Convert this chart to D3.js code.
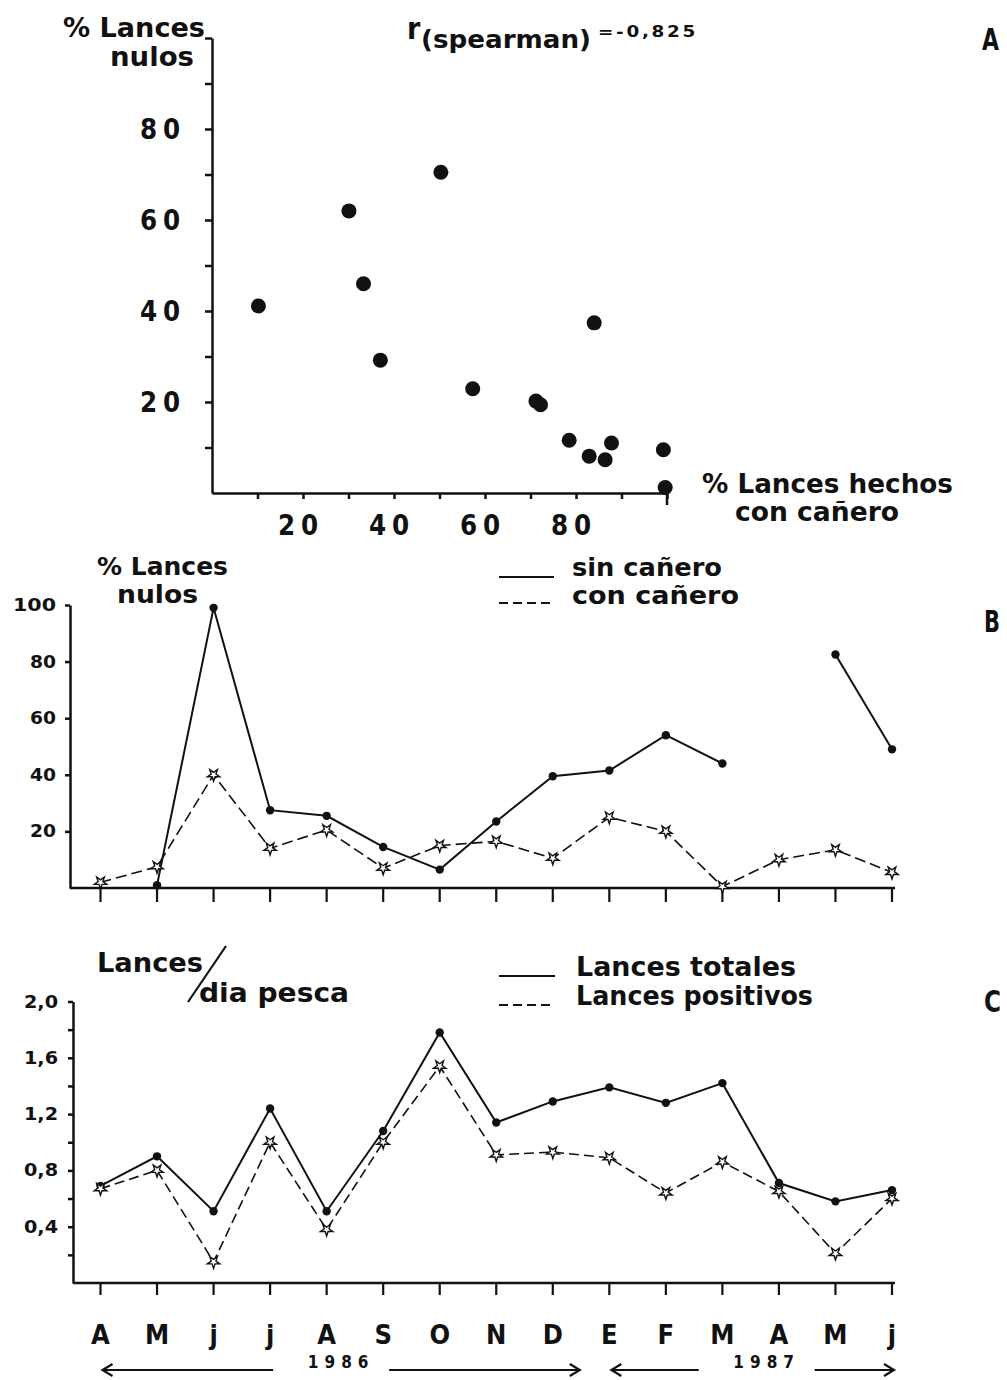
<!DOCTYPE html>
<html>
<head>
<meta charset="utf-8">
<script src="https://cdn.jsdelivr.net/npm/d3@7"></script>
<style>
body { margin: 0; background: #fff; }
svg text { font-family: 'Liberation Sans Narrow', 'DejaVu Sans Condensed', sans-serif; font-weight: bold; fill: #111; }
.axis path, .axis line { stroke: #111; stroke-width: 2.5; }
</style>
</head>
<body>
<svg id="chart" width="1007" height="1380"></svg>
<script>
// ---- data ----
// panel A: % lances hechos con cañero vs % lances nulos (one entry per point)
var pctConCanero = [10.2, 30.1, 33.3, 37.0, 50.3, 57.3, 71.2, 72.2, 84.0, 78.5, 82.9, 86.4, 87.8, 99.2, 99.6];
var pctNulosA    = [41.1, 62.0, 46.0, 29.2, 70.5, 22.9, 20.2, 19.4, 37.4, 11.6, 8.1, 7.3, 11.0, 9.5, 1.2];
var axisA_ticks = [10, 20, 30, 40, 50, 60, 70, 80, 90, 100];
var axisA_labels = [20, 40, 60, 80];

// months Apr 1986 - Jun 1987
var months = ['A', 'M', 'j', 'j', 'A', 'S', 'O', 'N', 'D', 'E', 'F', 'M', 'A', 'M', 'j'];

// panel B: % lances nulos
var sinCanero = [null, 1, 99, 27.5, 25.5, 14.5, 6.5, 23.5, 39.5, 41.5, 54, 44, null, 82.5, 49];
var conCanero = [2, 7.5, 40, 14, 20.5, 7, 15, 16.5, 10.5, 25, 20, 0.5, 10, 13.5, 5.5];
var axisB_ticks = [20, 40, 60, 80, 100];

// panel C: lances / dia pesca
var lancesTotales   = [0.69, 0.90, 0.51, 1.24, 0.51, 1.08, 1.78, 1.14, 1.29, 1.39, 1.28, 1.42, 0.71, 0.58, 0.66];
var lancesPositivos = [0.67, 0.80, 0.15, 1.00, 0.38, 1.00, 1.54, 0.91, 0.93, 0.89, 0.64, 0.86, 0.65, 0.21, 0.60];
var axisC_ticks = [0.2, 0.4, 0.6, 0.8, 1.0, 1.2, 1.4, 1.6, 1.8, 2.0];
var axisC_labels = [0.4, 0.8, 1.2, 1.6, 2.0];

var years = [{label: '1986', from: 0, to: 8}, {label: '1987', from: 9, to: 14}];

var svg = d3.select('#chart');

function txt(x, y, s, size, opts) {
  opts = opts || {};
  var t = svg.append('text')
    .attr('x', x).attr('y', y)
    .attr('font-size', size)
    .attr('text-anchor', opts.anchor || 'start')
    .text(s);
  if (opts.len) t.attr('textLength', opts.len).attr('lengthAdjust', 'spacingAndGlyphs');
  if (opts.ls) t.attr('letter-spacing', opts.ls);
  return t;
}

function stars(g, data, x, y) {
  g.selectAll('.star')
    .data(data.map(function(v, i) { return [i, v]; }).filter(function(d) { return d[1] != null; }))
    .enter().append('path')
    .attr('class', 'star')
    .attr('d', d3.symbol().type(d3.symbolStar).size(48))
    .attr('transform', function(d) { return 'translate(' + x(d[0]) + ',' + y(d[1]) + ') rotate(180)'; })
    .attr('fill', '#fff')
    .attr('stroke', '#111')
    .attr('stroke-width', 1.4);
}

function dots(g, data, x, y, r) {
  g.selectAll('.dot')
    .data(data.map(function(v, i) { return [i, v]; }).filter(function(d) { return d[1] != null; }))
    .enter().append('circle')
    .attr('class', 'dot')
    .attr('r', r)
    .attr('cx', function(d) { return x(d[0]); })
    .attr('cy', function(d) { return y(d[1]); })
    .attr('fill', '#111');
}

function seriesLine(g, data, x, y, dash, w) {
  g.append('path')
    .datum(data)
    .attr('fill', 'none')
    .attr('stroke', '#111')
    .attr('stroke-width', w)
    .attr('stroke-dasharray', dash)
    .attr('d', d3.line()
      .defined(function(d) { return d != null; })
      .x(function(d, i) { return x(i); })
      .y(function(d) { return y(d); }));
}

// ===== panel A =====
var xA = d3.scaleLinear().domain([0, 100]).range([212, 667]);
var yA = d3.scaleLinear().domain([0, 100]).range([493, 38]);
var gA = svg.append('g');

gA.append('g').attr('class', 'axis')
  .attr('transform', 'translate(' + xA(0) + ',0)')
  .call(d3.axisLeft(yA).tickValues(axisA_ticks).tickSize(7).tickSizeOuter(0).tickFormat(''));
gA.append('g').attr('class', 'axis')
  .attr('transform', 'translate(0,' + yA(0) + ')')
  .call(d3.axisBottom(xA).tickValues(axisA_ticks).tickSize(6).tickSizeOuter(0).tickFormat(''));
// longer tick at 100
gA.append('line').attr('x1', xA(100)).attr('x2', xA(100))
  .attr('y1', yA(0) - 5).attr('y2', yA(0) + 12)
  .attr('stroke', '#111').attr('stroke-width', 2.5);

axisA_labels.forEach(function(v) {
  txt(186, yA(v) + 10, v, 28, {anchor: 'end', ls: 6, len: 46});
  txt(xA(v) - 2, 535, v, 28, {anchor: 'middle', ls: 6, len: 46});
});

gA.selectAll('.pt')
  .data(pctConCanero.map(function(v, i) { return [v, pctNulosA[i]]; }))
  .enter().append('circle')
  .attr('class', 'pt')
  .attr('r', 7.5)
  .attr('cx', function(d) { return xA(d[0]); })
  .attr('cy', function(d) { return yA(d[1]); })
  .attr('fill', '#111');

txt(63, 37, '% Lances', 27, {len: 142});
txt(110, 66, 'nulos', 27, {len: 84});
txt(407, 39, 'r', 30);
txt(421, 48, '(spearman)', 24, {len: 170});
txt(598, 37, '=-0,825', 15, {len: 100, ls: 2});
txt(982, 50, 'A', 30, {len: 17});
txt(702, 493, '% Lances hechos', 26, {len: 251});
txt(735, 521, 'con cañero', 26, {len: 164});

// ===== panel B =====
var xM = d3.scaleLinear().domain([0, months.length - 1]).range([100.5, 892]);
var yB = d3.scaleLinear().domain([0, 100]).range([888, 605]);
var gB = svg.append('g');

gB.append('g').attr('class', 'axis')
  .attr('transform', 'translate(70,0)')
  .call(d3.axisLeft(yB).tickValues(axisB_ticks).tickSize(5).tickSizeOuter(0).tickFormat(''));
gB.append('line').attr('x1', 70).attr('x2', 895).attr('y1', yB(0)).attr('y2', yB(0))
  .attr('stroke', '#111').attr('stroke-width', 2.5);
gB.selectAll('.mt').data(months).enter().append('line')
  .attr('x1', function(d, i) { return xM(i); }).attr('x2', function(d, i) { return xM(i); })
  .attr('y1', yB(0)).attr('y2', yB(0) + 14)
  .attr('stroke', '#111').attr('stroke-width', 2.2);

axisB_ticks.forEach(function(v) {
  txt(56, yB(v) + 6, v, 17, {anchor: 'end', len: v === 100 ? 43 : 26});
});

seriesLine(gB, sinCanero, xM, yB, null, 2);
seriesLine(gB, conCanero, xM, yB, '11,5', 1.6);
dots(gB, sinCanero, xM, yB, 4.2);
stars(gB, conCanero, xM, yB);

txt(97, 575, '% Lances', 24, {len: 131});
txt(117, 603, 'nulos', 24, {len: 81});
gB.append('line').attr('x1', 499).attr('x2', 554).attr('y1', 577).attr('y2', 577)
  .attr('stroke', '#111').attr('stroke-width', 2);
gB.append('line').attr('x1', 499).attr('x2', 554).attr('y1', 603).attr('y2', 603)
  .attr('stroke', '#111').attr('stroke-width', 2).attr('stroke-dasharray', '9,5');
txt(572, 576, 'sin cañero', 25, {len: 150});
txt(572, 604, 'con cañero', 25, {len: 167});
txt(984, 632, 'B', 30, {len: 16});

// ===== panel C =====
var yC = d3.scaleLinear().domain([0, 2]).range([1283, 1001.5]);
var gC = svg.append('g');

gC.append('g').attr('class', 'axis')
  .attr('transform', 'translate(73,0)')
  .call(d3.axisLeft(yC).tickValues(axisC_ticks).tickSize(5).tickSizeOuter(0).tickFormat(''));
gC.append('line').attr('x1', 73).attr('x2', 895).attr('y1', yC(0)).attr('y2', yC(0))
  .attr('stroke', '#111').attr('stroke-width', 2.5);
gC.selectAll('.mt').data(months).enter().append('line')
  .attr('x1', function(d, i) { return xM(i); }).attr('x2', function(d, i) { return xM(i); })
  .attr('y1', yC(0)).attr('y2', yC(0) + 12)
  .attr('stroke', '#111').attr('stroke-width', 2.2);

axisC_labels.forEach(function(v) {
  txt(58, yC(v) + 6, d3.format('.1f')(v).replace('.', ','), 17, {anchor: 'end', len: 34});
});

seriesLine(gC, lancesTotales, xM, yC, null, 2);
seriesLine(gC, lancesPositivos, xM, yC, '10,5', 1.6);
dots(gC, lancesTotales, xM, yC, 4.2);
stars(gC, lancesPositivos, xM, yC);

// month labels
gC.selectAll('.ml').data(months).enter().append('text')
  .attr('x', function(d, i) { return xM(i); })
  .attr('y', 1344)
  .attr('text-anchor', 'middle')
  .attr('font-size', 27)
  .text(function(d) { return d; });

// year arrows
var arrowY = 1370;
function arrow(x1, x2) {
  var dir = x2 > x1 ? 1 : -1;
  gC.append('line').attr('x1', x1).attr('x2', x2).attr('y1', arrowY).attr('y2', arrowY)
    .attr('stroke', '#111').attr('stroke-width', 2.2);
  gC.append('path')
    .attr('d', 'M' + (x2 - dir * 10) + ',' + (arrowY - 6) + 'L' + x2 + ',' + arrowY + 'L' + (x2 - dir * 10) + ',' + (arrowY + 6))
    .attr('fill', 'none').attr('stroke', '#111').attr('stroke-width', 2.2);
}
years.forEach(function(yr) {
  var a = xM(yr.from) + 2, b = xM(yr.to) + (yr.to === 14 ? 2 : 27);
  var mid = (a + b) / 2 + (yr.label === '1986' ? 0 : 14);
  txt(mid, arrowY - 2, yr.label, 17, {anchor: 'middle', ls: 6});
  arrow(mid - 68, a);
  arrow(mid + 48, b);
});

txt(97, 972, 'Lances', 27, {len: 106});
gC.append('line').attr('x1', 188).attr('y1', 1002).attr('x2', 226).attr('y2', 946)
  .attr('stroke', '#111').attr('stroke-width', 2.2);
txt(199, 1002, 'dia pesca', 27, {len: 150});
gC.append('line').attr('x1', 499).attr('x2', 555).attr('y1', 976).attr('y2', 976)
  .attr('stroke', '#111').attr('stroke-width', 2);
gC.append('line').attr('x1', 499).attr('x2', 555).attr('y1', 1005).attr('y2', 1005)
  .attr('stroke', '#111').attr('stroke-width', 2).attr('stroke-dasharray', '9,5');
txt(576, 976, 'Lances totales', 26, {len: 220});
txt(576, 1005, 'Lances positivos', 26, {len: 237});
txt(984, 1012, 'C', 30, {len: 17});
</script>
</body>
</html>
